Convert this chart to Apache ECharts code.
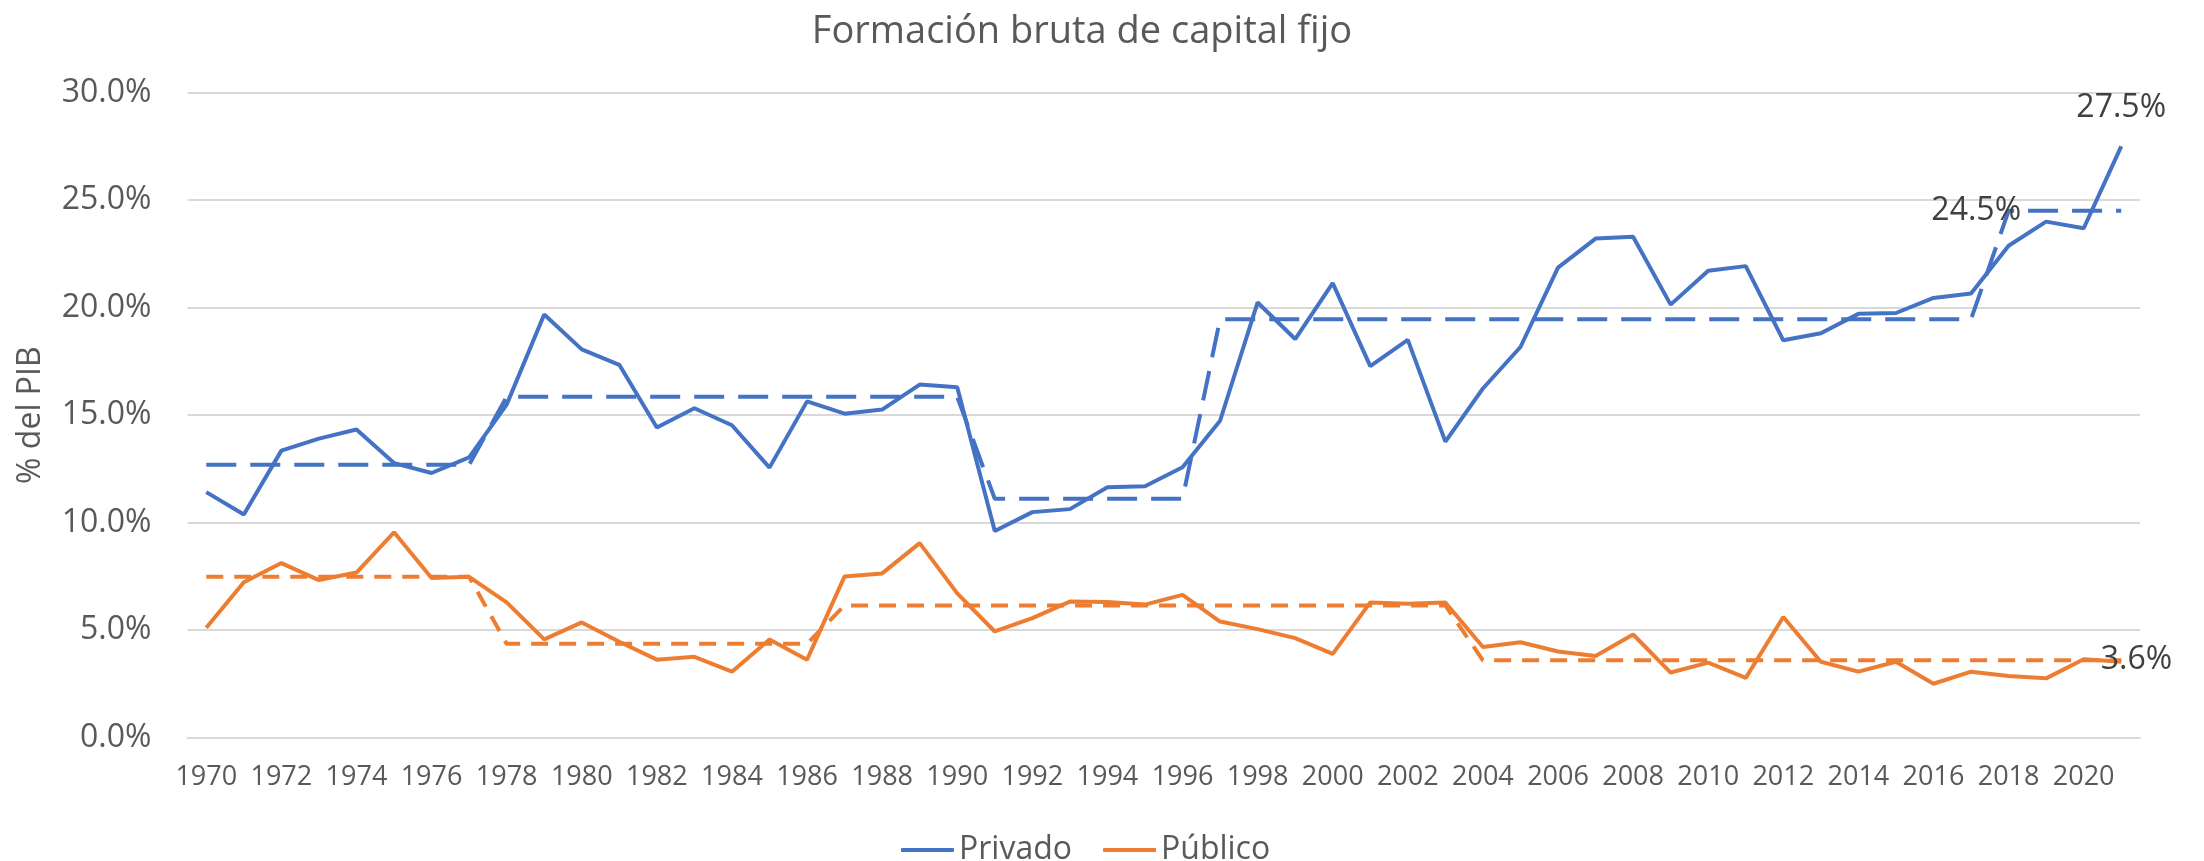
<!DOCTYPE html>
<html>
<head>
<meta charset="utf-8">
<title>Formación bruta de capital fijo</title>
<script src="https://cdn.jsdelivr.net/npm/echarts@6/dist/echarts.min.js"></script>
<style>
    html, body { margin: 0; padding: 0; background: #fff; }
    #myChart { width: 2204px; height: 861px; }
</style>
</head>
<body>
<div id="myChart"></div>
<script>
// años 1970 - 2021
var years = [];
for (var y = 1970; y <= 2021; y++) {
    years.push(String(y));
}

// % del PIB
var privado = [
    11.42, 10.38, 13.35, 13.91, 14.33, 12.77, 12.31, 13.04, 15.49, 19.68,
    18.06, 17.34, 14.43, 15.32, 14.53, 12.56, 15.64, 15.07, 15.26, 16.42,
    16.30, 9.61, 10.49, 10.63, 11.65, 11.69, 12.58, 14.74, 20.24, 18.54,
    21.14, 17.28, 18.50, 13.77, 16.24, 18.17, 21.86, 23.21, 23.30, 20.14,
    21.72, 21.93, 18.48, 18.81, 19.71, 19.75, 20.45, 20.66, 22.88, 24.00,
    23.69, 27.50
];
var publico = [
    5.11, 7.23, 8.12, 7.33, 7.68, 9.55, 7.43, 7.48, 6.29, 4.57,
    5.36, 4.46, 3.63, 3.76, 3.07, 4.57, 3.63, 7.50, 7.64, 9.05,
    6.71, 4.94, 5.56, 6.33, 6.31, 6.19, 6.64, 5.40, 5.05, 4.63,
    3.90, 6.29, 6.23, 6.29, 4.22, 4.44, 4.01, 3.80, 4.80, 3.03,
    3.49, 2.78, 5.61, 3.53, 3.07, 3.53, 2.51, 3.07, 2.87, 2.76,
    3.65, 3.53
];
// promedios por periodo (líneas punteadas)
var privadoProm = [
    12.69, 12.69, 12.69, 12.69, 12.69, 12.69, 12.69, 12.69, 15.85, 15.85,
    15.85, 15.85, 15.85, 15.85, 15.85, 15.85, 15.85, 15.85, 15.85, 15.85,
    15.85, 11.11, 11.11, 11.11, 11.11, 11.11, 11.11, 19.46, 19.46, 19.46,
    19.46, 19.46, 19.46, 19.46, 19.46, 19.46, 19.46, 19.46, 19.46, 19.46,
    19.46, 19.46, 19.46, 19.46, 19.46, 19.46, 19.46, 19.46, 24.50, 24.50,
    24.50, 24.50
];
var publicoProm = [
    7.48, 7.48, 7.48, 7.48, 7.48, 7.48, 7.48, 7.48, 4.37, 4.37,
    4.37, 4.37, 4.37, 4.37, 4.37, 4.37, 4.37, 6.15, 6.15, 6.15,
    6.15, 6.15, 6.15, 6.15, 6.15, 6.15, 6.15, 6.15, 6.15, 6.15,
    6.15, 6.15, 6.15, 6.15, 3.60, 3.60, 3.60, 3.60, 3.60, 3.60,
    3.60, 3.60, 3.60, 3.60, 3.60, 3.60, 3.60, 3.60, 3.60, 3.60,
    3.60, 3.60
];
var yTicks = [0, 5, 10, 15, 20, 25, 30];

var font = '"Open Sans", "Noto Sans", sans-serif';
var pct = function (p) {
    return Number(p.value).toFixed(1) + '%';
};

// etiqueta solo en un punto de la serie (necesita un símbolo para mostrarse)
function withLabel (arr, idx, label) {
    return arr.map(function (v, i) {
        if (i !== idx) return v;
        return {value: v, symbol: 'circle', symbolSize: 1, label: label};
    });
}

var myChart = echarts.init(document.getElementById('myChart'), null, {renderer: 'canvas'});
myChart.setOption({
    animation: false,
    backgroundColor: '#fff',
    textStyle: {fontFamily: font},
    title: {
        text: 'Formación bruta de capital fijo',
        left: 1077,
        top: 8,
        textAlign: 'center',
        textStyle: {
            fontFamily: font,
            fontSize: 38,
            fontWeight: 'normal',
            color: '#595959'
        }
    },
    legend: {
        data: ['Privado', 'Público'],
        left: 896,
        top: 829,
        icon: 'roundRect',
        itemWidth: 53,
        itemHeight: 4,
        itemGap: 31,
        textStyle: {
            fontFamily: font,
            fontSize: 32,
            color: '#595959'
        }
    },
    grid: {
        left: 187.5,
        right: 64,
        top: 92.6,
        bottom: 123.3
    },
    xAxis: {
        type: 'category',
        data: years,
        boundaryGap: true,
        axisTick: {show: false},
        axisLine: {
            lineStyle: {color: '#D9D9D9', width: 2}
        },
        axisLabel: {
            interval: 1,
            margin: 26,
            fontFamily: font,
            fontSize: 27,
            color: '#595959'
        }
    },
    yAxis: {
        type: 'value',
        min: yTicks[0],
        max: yTicks[yTicks.length - 1],
        interval: 5,
        name: '% del PIB',
        nameLocation: 'middle',
        nameGap: 141,
        nameTextStyle: {
            fontFamily: font,
            fontSize: 32,
            color: '#595959'
        },
        axisLine: {show: false},
        axisTick: {show: false},
        axisLabel: {
            margin: 36,
            fontFamily: font,
            fontSize: 32,
            color: '#595959',
            formatter: function (v) {
                return v.toFixed(1) + '%';
            }
        },
        splitLine: {
            lineStyle: {color: '#D9D9D9', width: 2}
        }
    },
    series: [{
        name: 'Privado',
        type: 'line',
        symbol: 'none',
        data: withLabel(privado, privado.length - 1, {
            show: true,
            position: 'top',
            distance: 22,
            formatter: pct,
            fontFamily: font,
            fontSize: 32,
            color: '#404040'
        }),
        lineStyle: {color: '#4472C4', width: 4},
        itemStyle: {color: '#4472C4'}
    }, {
        name: 'Público',
        type: 'line',
        symbol: 'none',
        data: publico,
        lineStyle: {color: '#ED7D31', width: 4},
        itemStyle: {color: '#ED7D31'}
    }, {
        name: 'Promedio privado',
        type: 'line',
        symbol: 'none',
        data: withLabel(privadoProm, 48, {
            show: true,
            position: 'left',
            distance: 5,
            offset: [18, 0],
            formatter: pct,
            fontFamily: font,
            fontSize: 32,
            color: '#404040'
        }),
        lineStyle: {color: '#4472C4', width: 4, type: [30, 14]},
        itemStyle: {color: '#4472C4'}
    }, {
        name: 'Promedio público',
        type: 'line',
        symbol: 'none',
        data: withLabel(publicoProm, publicoProm.length - 1, {
            show: true,
            position: 'right',
            distance: 5,
            offset: [-26, 0],
            formatter: pct,
            fontFamily: font,
            fontSize: 32,
            color: '#404040'
        }),
        lineStyle: {color: '#ED7D31', width: 4, type: [17, 11]},
        itemStyle: {color: '#ED7D31'}
    }]
});
</script>
</body>
</html>
